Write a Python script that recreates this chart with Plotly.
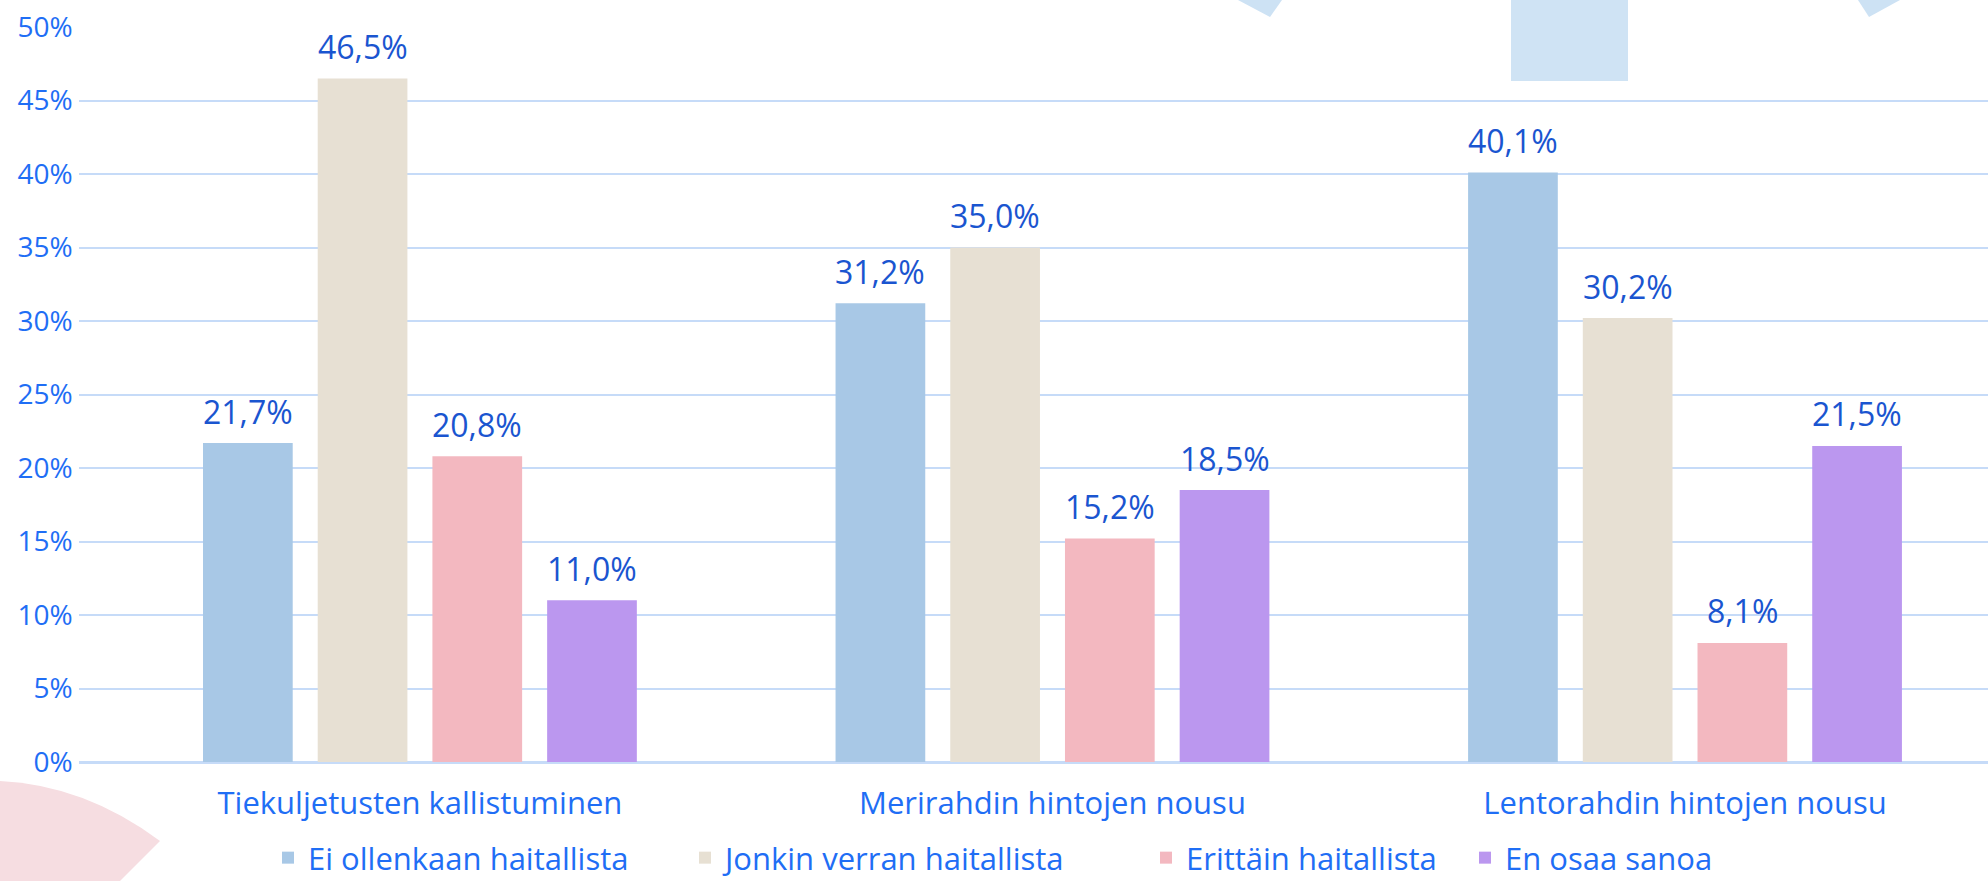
import plotly.graph_objects as go

categories = ["Tiekuljetusten kallistuminen", "Merirahdin hintojen nousu", "Lentorahdin hintojen nousu"]
series_names = ["Ei ollenkaan haitallista", "Jonkin verran haitallista", "Erittäin haitallista", "En osaa sanoa"]
ei_ollenkaan = [21.7, 31.2, 40.1]
jonkin_verran = [46.5, 35.0, 30.2]
erittain = [20.8, 15.2, 8.1]
en_osaa = [11.0, 18.5, 21.5]
y_ticks = [0, 5, 10, 15, 20, 25, 30, 35, 40, 45, 50]
y_tick_labels = [f"{v}%" for v in y_ticks]

series_values = [ei_ollenkaan, jonkin_verran, erittain, en_osaa]
colors = ["#a8c8e6", "#e7e0d3", "#f3b8c0", "#bb97ef"]

W, H = 1988, 881
FONT = "Open Sans"
TICK_BLUE = "#1f6ef5"
LABEL_BLUE = "#1a55d0"

legend_ids = ["legend", "legend2", "legend3", "legend4"]
legend_x_px = [268, 685, 1146, 1465]

fig = go.Figure()
for name, vals, col, lid in zip(series_names, series_values, colors, legend_ids):
    fig.add_trace(go.Bar(x=categories, y=vals, name=name, legend=lid,
                         marker=dict(color=col, line=dict(width=0))))

# data labels as annotations tied to the data coordinates
pitch = 114.7
offsets = [-1.5 * pitch, -0.5 * pitch, 0.5 * pitch, 1.5 * pitch]
annotations = []
for i, vals in enumerate(series_values):
    for cat, v in zip(categories, vals):
        annotations.append(dict(
            x=cat, y=v, xref="x", yref="y", text=f"{v:.1f}".replace(".", ",") + "%",
            showarrow=False, xshift=offsets[i], yshift=32, yanchor="middle",
            font=dict(family=FONT, size=32, color=LABEL_BLUE)))

def px(x):
    return x / W

def py(y):
    return 1 - y / H

shapes = [
    dict(type="path", xref="paper", yref="paper", layer="below", line=dict(width=0),
         fillcolor="#f6dde1",
         path=f"M {px(0)},{py(781)} Q {px(85)},{py(785)} {px(160)},{py(841)} L {px(120)},{py(881)} L {px(0)},{py(881)} Z"),
    dict(type="path", xref="paper", yref="paper", layer="below", line=dict(width=0),
         fillcolor="#cde2f4",
         path=f"M {px(1238)},{py(0)} L {px(1282)},{py(0)} L {px(1270)},{py(17)} Z"),
    dict(type="path", xref="paper", yref="paper", layer="below", line=dict(width=0),
         fillcolor="#cde2f4",
         path=f"M {px(1858)},{py(0)} L {px(1900)},{py(0)} L {px(1869)},{py(17)} Z"),
    dict(type="rect", xref="paper", yref="paper", layer="below", line=dict(width=0),
         fillcolor="#cfe3f4", x0=px(1511), x1=px(1628), y0=py(81), y1=py(0)),
]

legend_style = dict(orientation="h", xanchor="left", y=py(858), yanchor="middle",
                    font=dict(family=FONT, size=31, color=TICK_BLUE),
                    bgcolor="rgba(0,0,0,0)")
legends = {lid: dict(legend_style, x=px(lx)) for lid, lx in zip(legend_ids, legend_x_px)}

fig.update_layout(
    width=W, height=H,
    margin=dict(l=0, r=0, t=0, b=0, autoexpand=False),
    paper_bgcolor="white", plot_bgcolor="rgba(0,0,0,0)",
    barmode="group", bargap=0.2746, bargroupgap=0.218,
    font=dict(family=FONT, size=30, color=TICK_BLUE),
    showlegend=True,
    xaxis=dict(domain=[px(78.6), 1], range=[-0.5396, 2.479], showgrid=False,
               tickfont=dict(family=FONT, size=31, color=TICK_BLUE), ticks="",
               ticklabelstandoff=20, showline=False, zeroline=False, automargin=False),
    yaxis=dict(domain=[py(762), py(27)], range=[0, 50], tickmode="array",
               tickvals=y_ticks, ticktext=y_tick_labels,
               showgrid=True, gridcolor="#c6dbf8", gridwidth=2,
               zeroline=True, zerolinecolor="#c6dbf8", zerolinewidth=3,
               tickfont=dict(family=FONT, size=28, color=TICK_BLUE), ticks="",
               ticklabelstandoff=5, showline=False, automargin=False),
    annotations=annotations,
    shapes=shapes,
    **legends,
)

fig.write_html("out.html", config={"displayModeBar": False},
               post_script="document.body.style.margin='0px';document.body.style.overflow='hidden';")
